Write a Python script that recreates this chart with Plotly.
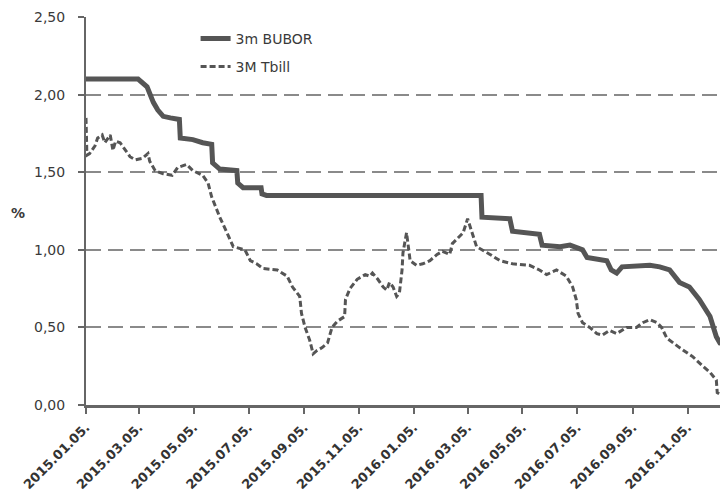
import plotly.graph_objects as go

# 3m BUBOR (%)
bubor_dates = [
    "2015-01-05", "2015-03-04", "2015-03-14", "2015-03-17", "2015-03-21", "2015-03-26",
    "2015-04-01", "2015-04-09", "2015-04-19", "2015-04-20", "2015-05-04", "2015-05-15",
    "2015-05-25", "2015-05-26", "2015-06-03", "2015-06-22", "2015-06-23", "2015-06-29",
    "2015-07-19", "2015-07-20", "2015-07-25", "2016-03-20", "2016-03-21", "2016-04-21",
    "2016-04-24", "2016-05-24", "2016-05-27", "2016-06-16", "2016-06-27", "2016-07-11",
    "2016-07-16", "2016-08-07", "2016-08-12", "2016-08-18", "2016-08-24", "2016-09-24",
    "2016-10-05", "2016-10-16", "2016-10-27", "2016-11-07", "2016-11-18", "2016-11-30",
    "2016-12-07", "2016-12-11", "2016-12-20",
]
bubor_values = [
    2.10, 2.10, 2.05, 2.00, 1.95, 1.90,
    1.86, 1.85, 1.84, 1.72, 1.71, 1.69,
    1.68, 1.56, 1.52, 1.51, 1.43, 1.40,
    1.40, 1.36, 1.35, 1.35, 1.21, 1.20,
    1.12, 1.10, 1.03, 1.02, 1.03, 1.00,
    0.95, 0.93, 0.87, 0.85, 0.89, 0.90,
    0.89, 0.87, 0.79, 0.76, 0.68, 0.57,
    0.44, 0.40, 0.39,
]

# 3M T-bill (%)
tbill_dates = [
    "2015-01-05", "2015-01-06", "2015-01-09", "2015-01-15", "2015-01-18", "2015-01-23",
    "2015-01-26", "2015-02-01", "2015-02-04", "2015-02-07", "2015-02-12", "2015-02-17",
    "2015-02-23", "2015-03-01", "2015-03-09", "2015-03-15", "2015-03-17", "2015-03-23",
    "2015-04-01", "2015-04-11", "2015-04-17", "2015-04-27", "2015-05-04", "2015-05-15",
    "2015-05-21", "2015-05-25", "2015-06-03", "2015-06-11", "2015-06-18", "2015-07-01",
    "2015-07-07", "2015-07-14", "2015-07-21", "2015-08-06", "2015-08-17", "2015-08-23",
    "2015-08-31", "2015-09-02", "2015-09-06", "2015-09-11", "2015-09-15", "2015-09-19",
    "2015-09-25", "2015-10-01", "2015-10-06", "2015-10-12", "2015-10-20", "2015-10-21",
    "2015-10-26", "2015-11-03", "2015-11-12", "2015-11-17", "2015-11-20", "2015-11-26",
    "2015-12-02", "2015-12-06", "2015-12-09", "2015-12-13", "2015-12-17", "2015-12-20",
    "2015-12-23", "2015-12-24", "2015-12-28", "2016-01-01", "2016-01-08", "2016-01-15",
    "2016-01-23", "2016-01-31", "2016-02-06", "2016-02-14", "2016-02-17", "2016-02-29",
    "2016-03-05", "2016-03-10", "2016-03-15", "2016-03-30", "2016-04-10", "2016-04-24",
    "2016-05-13", "2016-05-24", "2016-06-01", "2016-06-12", "2016-06-23", "2016-06-30",
    "2016-07-04", "2016-07-06", "2016-07-11", "2016-07-19", "2016-07-27", "2016-08-02",
    "2016-08-10", "2016-08-18", "2016-08-29", "2016-09-09", "2016-09-16", "2016-09-24",
    "2016-10-02", "2016-10-07", "2016-10-13", "2016-10-27", "2016-11-11", "2016-11-22",
    "2016-11-30", "2016-12-07", "2016-12-08", "2016-12-14",
]
tbill_values = [
    1.85, 1.61, 1.62, 1.67, 1.72, 1.74,
    1.69, 1.74, 1.64, 1.70, 1.69, 1.65,
    1.60, 1.58, 1.59, 1.62, 1.57, 1.51,
    1.49, 1.48, 1.53, 1.55, 1.51, 1.48,
    1.43, 1.34, 1.21, 1.11, 1.02, 1.00,
    0.93, 0.91, 0.88, 0.87, 0.83, 0.76,
    0.70, 0.59, 0.50, 0.42, 0.33, 0.35,
    0.37, 0.40, 0.50, 0.54, 0.57, 0.68,
    0.75, 0.81, 0.84, 0.83, 0.85, 0.81,
    0.76, 0.74, 0.79, 0.76, 0.70, 0.72,
    0.87, 0.98, 1.11, 0.93, 0.90, 0.91,
    0.93, 0.97, 0.99, 0.97, 1.04, 1.11,
    1.20, 1.11, 1.02, 0.97, 0.93, 0.91,
    0.90, 0.87, 0.84, 0.87, 0.83, 0.76,
    0.68, 0.59, 0.53, 0.50, 0.46, 0.45,
    0.48, 0.46, 0.50, 0.50, 0.53, 0.55,
    0.53, 0.50, 0.43, 0.37, 0.31, 0.25,
    0.21, 0.16, 0.08, 0.06,
]

x_tick_dates = [
    "2015-01-05", "2015-03-05", "2015-05-05", "2015-07-05", "2015-09-05", "2015-11-05",
    "2016-01-05", "2016-03-05", "2016-05-05", "2016-07-05", "2016-09-05", "2016-11-05",
]
x_tick_labels = [
    "2015.01.05.", "2015.03.05.", "2015.05.05.", "2015.07.05.", "2015.09.05.", "2015.11.05.",
    "2016.01.05.", "2016.03.05.", "2016.05.05.", "2016.07.05.", "2016.09.05.", "2016.11.05.",
]
y_tick_values = [0, 0.5, 1.0, 1.5, 2.0, 2.5]
y_tick_labels = ["0,00", "0,50", "1,00", "1,50", "2,00", "2,50"]

line_col = "#555555"
text_col = "#3a3a3a"
font_fam = "DejaVu Sans, sans-serif"

fig = go.Figure()
fig.add_trace(go.Scatter(
    x=bubor_dates, y=bubor_values, mode="lines", name="3m BUBOR",
    line=dict(color=line_col, width=5), legendgroup="a",
))
fig.add_trace(go.Scatter(
    x=tbill_dates, y=tbill_values, mode="lines", name="3M Tbill",
    line=dict(color=line_col, width=3, dash="6px,3px"), legendgroup="b",
))

fig.update_layout(
    width=720, height=489,
    margin=dict(l=78, r=0, t=9, b=92, autoexpand=False),
    paper_bgcolor="white", plot_bgcolor="white",
    font=dict(family=font_fam, size=14, color=text_col),
    showlegend=True,
    legend=dict(
        x=0.1707, y=0.985, xanchor="left", yanchor="top",
        bgcolor="rgba(0,0,0,0)", tracegroupgap=7,
        font=dict(size=14, color=text_col),
    ),
    xaxis=dict(
        type="date",
        range=["2015-01-05", "2016-12-20"],
        tickvals=x_tick_dates, ticktext=x_tick_labels,
        tickangle=-45,
        ticks="outside", ticklen=6, tickcolor="#666666", tickwidth=1.5,
        ticklabelstandoff=1,
        showline=True, linecolor="#666666", linewidth=2.5,
        showgrid=False, zeroline=False,
        tickfont=dict(family="DejaVu Sans, sans-serif", size=13, color="#333333", weight="bold"),
        automargin=False,
    ),
    yaxis=dict(
        range=[0, 2.5],
        tickvals=y_tick_values, ticktext=y_tick_labels,
        ticks="outside", ticklen=6, tickcolor="#666666", tickwidth=1.5,
        ticklabelstandoff=10,
        showline=True, linecolor="#666666", linewidth=2,
        showgrid=True, gridcolor="#8a8a8a", gridwidth=1.5, griddash="15px,7px",
        zeroline=False,
        tickfont=dict(size=14, color=text_col),
        automargin=False,
    ),
    annotations=[dict(
        text="%", xref="paper", yref="paper", x=-0.106, y=0.495,
        xanchor="center", yanchor="middle",
        showarrow=False, font=dict(size=14, color=text_col, weight="bold"),
    )],
)

fig.write_html("out.html")
